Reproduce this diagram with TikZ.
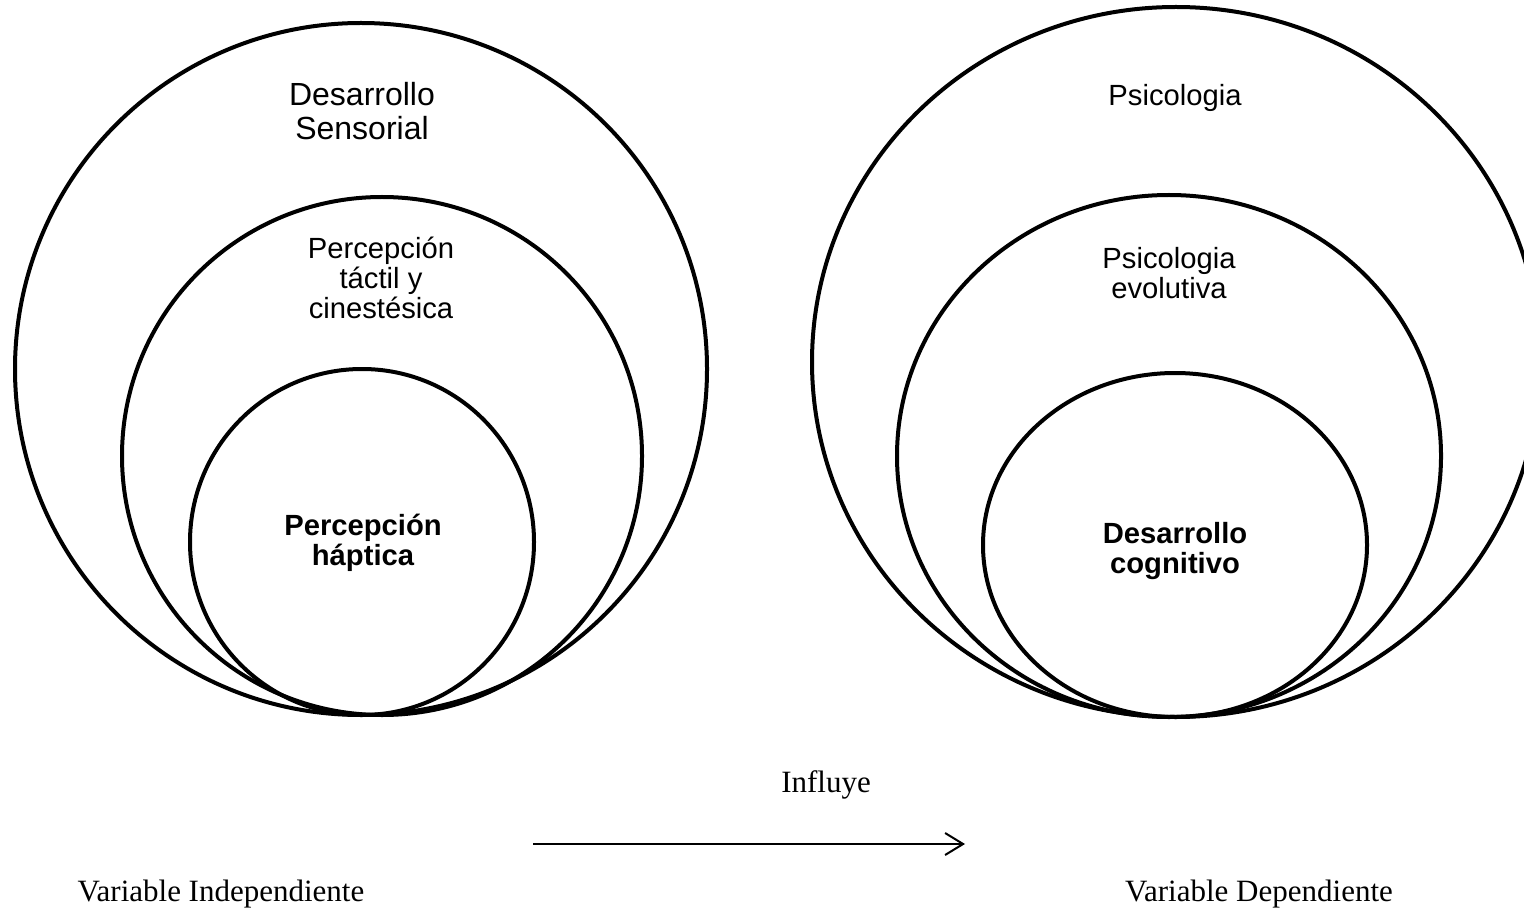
\documentclass[tikz,border=0pt]{standalone}
\usepackage{fontspec}
\setmainfont{Liberation Serif}
\setsansfont{Liberation Sans}
\usetikzlibrary{arrows.meta,shapes.geometric}

\begin{document}
\begin{tikzpicture}[
    x=0.5pt, y=-0.5pt,
    ring/.style={draw, ellipse, line width=2pt, inner sep=0pt},
    lbl/.style={font=\sffamily\fontsize{14.6}{15}\selectfont, align=center,
                inner sep=0pt},
    keylbl/.style={lbl, font=\sffamily\bfseries\fontsize{14.6}{15}\selectfont},
    varlbl/.style={font=\fontsize{15.5}{17}\selectfont, inner sep=0pt},
    arr/.style={-{Straight Barb[length=9pt,width=11pt]}, line width=1pt},
  ]
  \useasboundingbox (0,0) rectangle (1524,914);

  % --- independent variable ---
  \node[ring, minimum width=346pt, minimum height=346pt] (sensOuter) at (361,369) {};
  \node[ring, minimum width=260pt, minimum height=259pt] (sensMid) at (382,456) {};
  \node[ring, minimum width=172pt, minimum height=173pt] (sensInner) at (362,542) {};

  \node[lbl, font=\sffamily\fontsize{16}{17}\selectfont] (sensTxt) at (362,111)
    {Desarrollo\\Sensorial};
  \node[lbl] (tactTxt) at (381,278) {Percepción\\táctil y\\cinestésica};
  \node[keylbl] (haptTxt) at (363,543) {Percepción\\háptica};

  % --- dependent variable ---
  \node[ring, minimum width=364pt, minimum height=355pt] (psyOuter) at (1176,362) {};
  \node[ring, minimum width=272pt, minimum height=261pt] (psyMid) at (1169,456) {};
  \node[ring, minimum width=192pt, minimum height=172pt] (psyInner) at (1175,545) {};

  \node[lbl] (psyTxt) at (1175,98) {Psicologia};
  \node[lbl] (evoTxt) at (1169,273) {Psicologia\\evolutiva};
  \node[keylbl] (cogTxt) at (1175,551) {Desarrollo\\cognitivo};

  % --- relation ---
  \node[varlbl] (infl) at (826,785) {Influye};
  \coordinate (arrStart) at (533,844);
  \coordinate (arrEnd) at (965,844);
  \draw[arr] (arrStart) -- (arrEnd);

  \node[varlbl] (indepTxt) at (221,894) {Variable Independiente};
  \node[varlbl] (depTxt) at (1259,894) {Variable Dependiente};
\end{tikzpicture}
\end{document}
